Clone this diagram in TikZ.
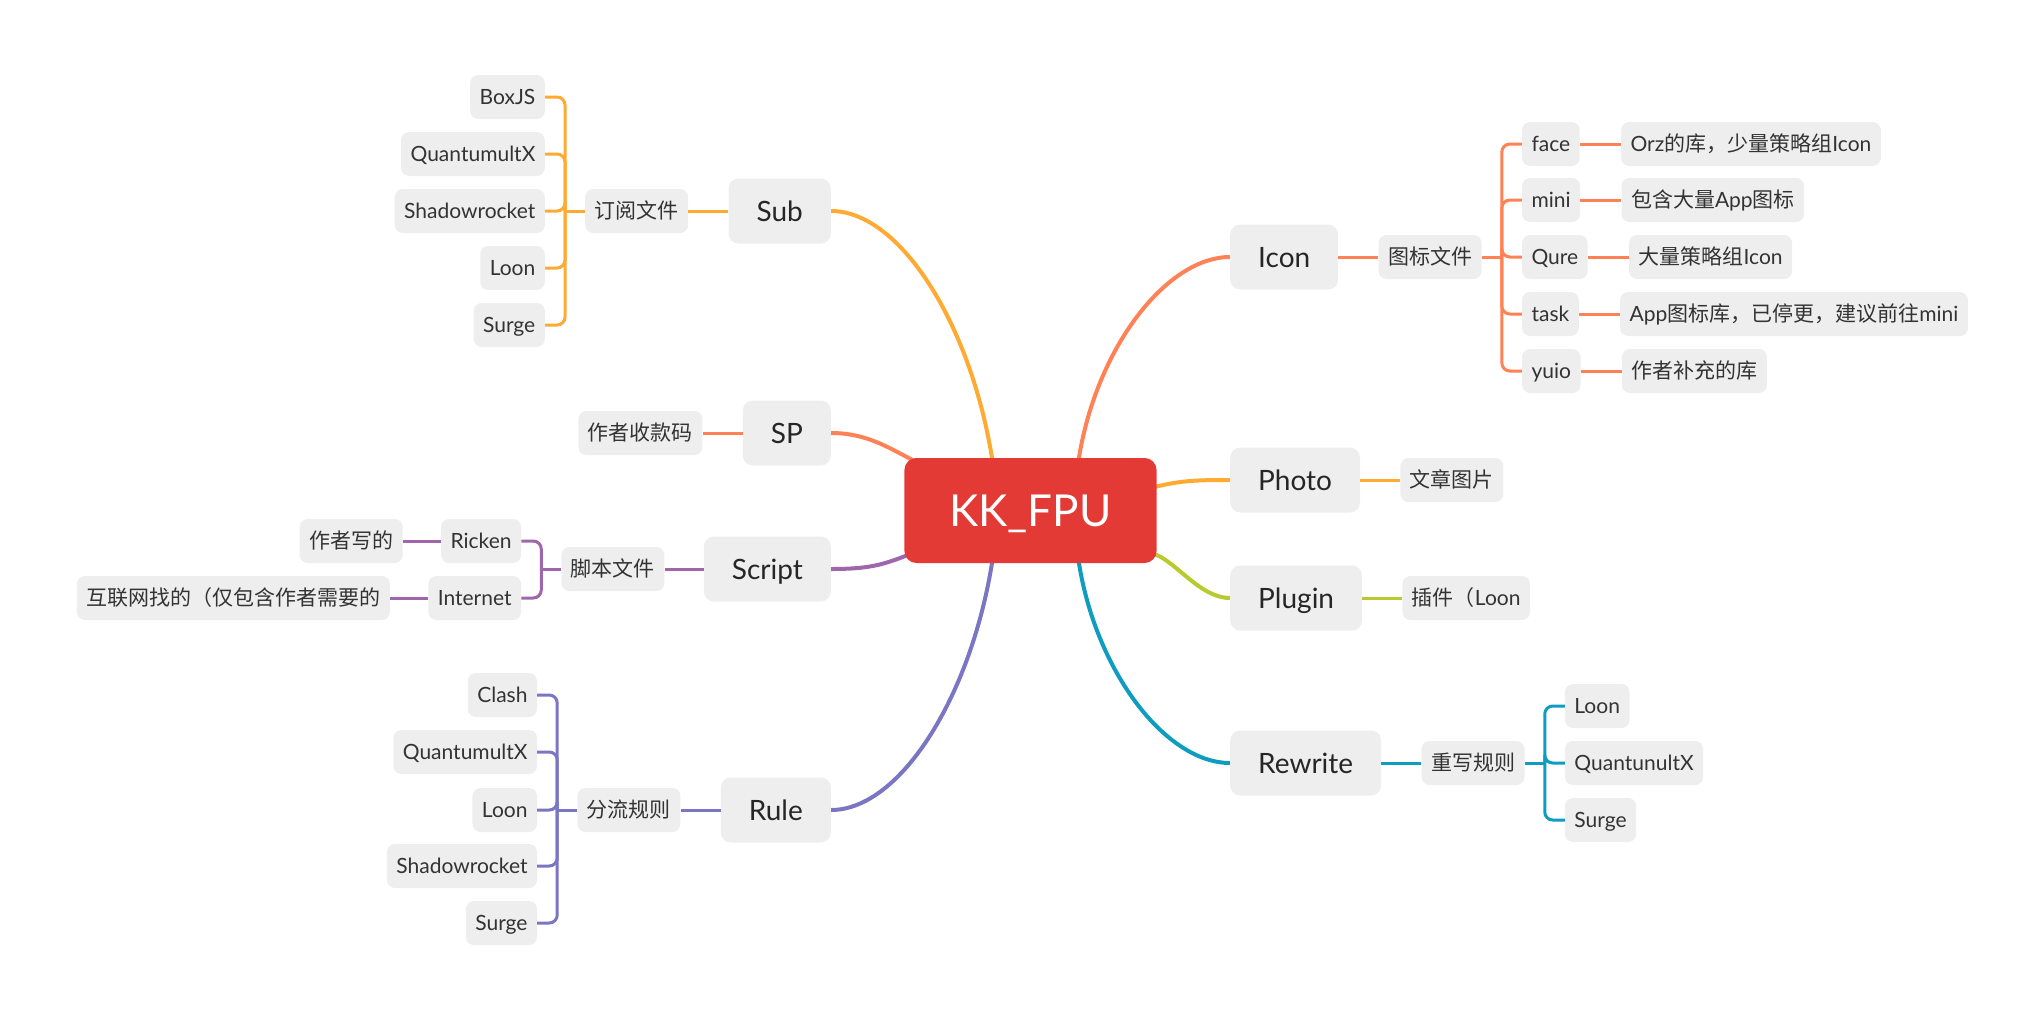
\documentclass[tikz,border=0pt]{standalone}
\usepackage{fontspec}
\setmainfont{Lato}
\newfontfamily\cjk{Noto Sans CJK SC}
\newcommand{\zh}[1]{{\cjk #1}}
\usetikzlibrary{backgrounds}

\definecolor{subcol}{HTML}{FFAA33}
\definecolor{iconcol}{HTML}{FF8256}
\definecolor{plugcol}{HTML}{B9CA2E}
\definecolor{rwcol}{HTML}{0E9CC0}
\definecolor{scriptcol}{HTML}{A066AD}
\definecolor{rulecol}{HTML}{7A76C4}
\definecolor{rootcol}{HTML}{E43A36}
\definecolor{boxcol}{HTML}{EEEEEE}
\definecolor{txtcol}{HTML}{333333}

\begin{document}
\begin{tikzpicture}[x=1pt, y=1pt,
    leaf/.style={fill=boxcol, text=txtcol, rounded corners=8pt, inner xsep=9.5pt, inner ysep=0pt,
        minimum height=44pt, text height=19pt, text depth=4pt, font=\fontsize{21}{25}\selectfont},
    topic/.style={fill=boxcol, text=black!85, rounded corners=10pt, inner xsep=28pt, inner ysep=0pt,
        minimum height=65pt, text height=24pt, text depth=4pt, font=\fontsize{28}{32}\selectfont},
    rootbox/.style={fill=rootcol, text=white, rounded corners=12pt, inner xsep=45pt, inner ysep=0pt,
        minimum height=105pt, text height=36pt, text depth=4pt, font=\fontsize{44}{50}\selectfont},
    main/.style={line width=4pt},
    link/.style={line width=3pt}]

    \useasboundingbox (0,0) rectangle (2043,-1021);

    % Draw the central topic
    \node[rootbox] (root) at (1030.5,-510.5) {KK\_FPU};

    % Main topics on the left
    \node[topic, anchor=east] (sub) at (831,-211) {Sub};
    \node[topic, anchor=east] (sp) at (831,-433) {SP};
    \node[topic, anchor=east] (script) at (831,-569) {Script};
    \node[topic, anchor=east] (rule) at (831,-810) {Rule};

    % Main topics on the right
    \node[topic, anchor=west] (icon) at (1230,-257) {Icon};
    \node[topic, anchor=west] (photo) at (1230,-480) {Photo};
    \node[topic, anchor=west] (plugin) at (1230,-598) {Plugin};
    \node[topic, anchor=west] (rewrite) at (1230,-763) {Rewrite};

    % Curved branches, behind the central topic
    \begin{scope}[on background layer]
        \draw[main, subcol] (sub.east) .. controls +(70,0) and +(-20,140) .. ([xshift=-37pt,yshift=-10pt]root.north);
        \draw[main, iconcol] (sp.east) .. controls +(40,0) and +(-30,14) .. ([xshift=20pt,yshift=-8pt]root.north west);
        \draw[main, scriptcol] (script.east) .. controls +(40,0) and +(-30,-12) .. ([xshift=10pt,yshift=-42pt]root.west);
        \draw[main, rulecol] (rule.east) .. controls +(70,0) and +(-20,-140) .. ([xshift=-37pt,yshift=10pt]root.south);
        \draw[main, iconcol] (icon.west) .. controls +(-65,0) and +(15,115) .. ([xshift=47pt,yshift=-10pt]root.north);
        \draw[main, subcol] (photo.west) .. controls +(-35,0) and +(30,8) .. ([xshift=-8pt,yshift=22pt]root.east);
        \draw[main, plugcol] (plugin.west) .. controls +(-40,0) and +(25,28) .. ([xshift=-22pt,yshift=3pt]root.south east);
        \draw[main, rwcol] (rewrite.west) .. controls +(-65,0) and +(15,-115) .. ([xshift=47pt,yshift=10pt]root.south);
    \end{scope}

    % Sub: subscription files
    \node[leaf, anchor=east, xshift=-40pt] (ding) at (sub.west) {\zh{订阅文件}};
    \draw[link, subcol] (sub.west) -- (ding.east);
    \coordinate (subj) at ([xshift=-20pt]ding.west);
    \draw[link, subcol] (ding.west) -- (subj);
    \foreach \nm/\yy/\txt in {boxjs/97/BoxJS, qxa/154/QuantumultX, shra/211/Shadowrocket, loona/268/Loon, surgea/325/Surge}
    {
        \node[leaf, anchor=east, xshift=-40pt] (\nm) at (ding.west |- 0,-\yy) {\txt};
        \draw[link, subcol, rounded corners=8pt] (subj) |- (\nm.east);
    }

    % SP
    \node[leaf, anchor=east, xshift=-40pt] (spk) at (sp.west) {\zh{作者收款码}};
    \draw[link, iconcol] (sp.west) -- (spk.east);

    % Script: script files
    \node[leaf, anchor=east, xshift=-39pt] (jiaoben) at (script.west) {\zh{脚本文件}};
    \draw[link, scriptcol] (script.west) -- (jiaoben.east);
    \coordinate (scriptj) at ([xshift=-20pt]jiaoben.west);
    \draw[link, scriptcol] (jiaoben.west) -- (scriptj);
    \foreach \nm/\yy/\txt/\desc in {ricken/541/Ricken/作者写的, internet/598/Internet/互联网找的（仅包含作者需要的}
    {
        \node[leaf, anchor=east, xshift=-40pt] (\nm) at (jiaoben.west |- 0,-\yy) {\txt};
        \draw[link, scriptcol, rounded corners=8pt] (scriptj) |- (\nm.east);
        \node[leaf, anchor=east, xshift=-38pt] (\nm-txt) at (\nm.west) {\zh{\desc}};
        \draw[link, scriptcol] (\nm.west) -- (\nm-txt.east);
    }

    % Rule: routing rules
    \node[leaf, anchor=east, xshift=-40pt] (fenliu) at (rule.west) {\zh{分流规则}};
    \draw[link, rulecol] (rule.west) -- (fenliu.east);
    \coordinate (rulej) at ([xshift=-20pt]fenliu.west);
    \draw[link, rulecol] (fenliu.west) -- (rulej);
    \foreach \nm/\yy/\txt in {clash/695/Clash, qxb/752/QuantumultX, loonb/810/Loon, shrb/866/Shadowrocket, surgeb/923/Surge}
    {
        \node[leaf, anchor=east, xshift=-40pt] (\nm) at (fenliu.west |- 0,-\yy) {\txt};
        \draw[link, rulecol, rounded corners=8pt] (rulej) |- (\nm.east);
    }

    % Icon: icon files
    \node[leaf, anchor=west, xshift=40pt] (tubiao) at (icon.east) {\zh{图标文件}};
    \draw[link, iconcol] (icon.east) -- (tubiao.west);
    \coordinate (iconj) at ([xshift=20pt]tubiao.east);
    \draw[link, iconcol] (tubiao.east) -- (iconj);
    \foreach \nm/\yy/\txt/\desc in {face/144/face/{Orz\zh{的库，少量策略组}Icon},
        mini/200/mini/{\zh{包含大量}App\zh{图标}},
        qure/257/Qure/{\zh{大量策略组}Icon},
        task/314/task/{App\zh{图标库，已停更，建议前往}mini},
        yuio/371/yuio/{\zh{作者补充的库}}}
    {
        \node[leaf, anchor=west, xshift=40pt] (\nm) at (tubiao.east |- 0,-\yy) {\txt};
        \draw[link, iconcol, rounded corners=8pt] (iconj) |- (\nm.west);
        \node[leaf, anchor=west, xshift=41pt] (\nm-txt) at (\nm.east) {\desc};
        \draw[link, iconcol] (\nm.east) -- (\nm-txt.west);
    }

    % Photo and Plugin
    \node[leaf, anchor=west, xshift=40pt] (wenzhang) at (photo.east) {\zh{文章图片}};
    \draw[link, subcol] (photo.east) -- (wenzhang.west);
    \node[leaf, anchor=west, xshift=40pt] (chajian) at (plugin.east) {\zh{插件（}Loon};
    \draw[link, plugcol] (plugin.east) -- (chajian.west);

    % Rewrite: rewrite rules
    \node[leaf, anchor=west, xshift=40pt] (chongxie) at (rewrite.east) {\zh{重写规则}};
    \draw[link, rwcol] (rewrite.east) -- (chongxie.west);
    \coordinate (rwj) at ([xshift=20pt]chongxie.east);
    \draw[link, rwcol] (chongxie.east) -- (rwj);
    \foreach \nm/\yy/\txt in {loonc/706/Loon, qxc/763/QuantunultX, surgec/820/Surge}
    {
        \node[leaf, anchor=west, xshift=40pt] (\nm) at (chongxie.east |- 0,-\yy) {\txt};
        \draw[link, rwcol, rounded corners=8pt] (rwj) |- (\nm.west);
    }
\end{tikzpicture}
\end{document}
